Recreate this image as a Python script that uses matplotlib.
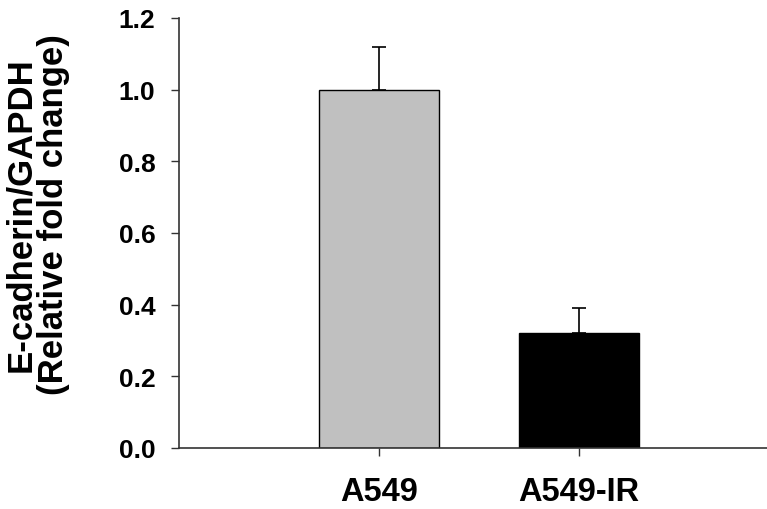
import numpy as np
import matplotlib
matplotlib.use("Agg")
import matplotlib.pyplot as plt

# values
groups = ["A549", "A549-IR"]
ratio = [1.00, 0.32]
sem = [0.12, 0.07]
bar_colors = ["#c0c0c0", "#000000"]

plt.rcParams["font.family"] = ["Liberation Sans", "DejaVu Sans"]
plt.rcParams["font.weight"] = "bold"

fig = plt.figure(figsize=(7.67, 5.10), dpi=100)
ax = fig.add_axes([179 / 767, 1 - 449 / 510, 1 - 179 / 767, (449 - 19) / 510])

x = np.arange(len(groups))
ax.bar(x, ratio, width=0.6, color=bar_colors, edgecolor="black", linewidth=1.0, zorder=2)
# SigmaPlot style: upper error bars only
ax.errorbar(x, ratio, yerr=[np.zeros(len(sem)), sem], fmt="none",
            ecolor="black", elinewidth=1.2, capsize=5, capthick=1.2, zorder=1)

ax.set_xlim(-1.0, 1.94)
ax.set_ylim(0, 1.2)
ax.set_yticks(np.arange(0, 1.21, 0.2))
ax.set_yticklabels([f"{v:.1f}" for v in np.arange(0, 1.21, 0.2)])
ax.set_xticks(x)
ax.set_xticklabels(groups)

for side in ["top", "right"]:
    ax.spines[side].set_visible(False)
for side in ["left", "bottom"]:
    ax.spines[side].set_color("#333333")
    ax.spines[side].set_linewidth(1.2)

ax.tick_params(axis="y", direction="out", length=6, width=1, color="#333333",
               labelsize=19, pad=11)
ax.tick_params(axis="x", direction="out", length=6, width=1, color="#333333",
               labelsize=23.5, pad=14)

fig.text(37 / 767, 1 - 215 / 510, "E-cadherin/GAPDH\n(Relative fold change)",
         rotation=90, ha="center", va="center", multialignment="center",
         fontsize=25, fontweight="bold", linespacing=1.0)

fig.savefig("out.png", dpi=100)
